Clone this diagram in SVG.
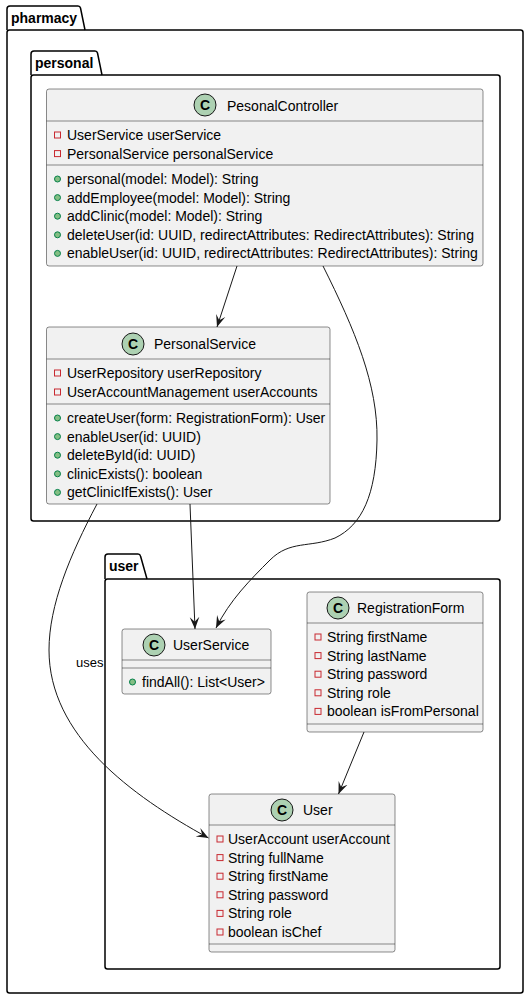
<svg xmlns="http://www.w3.org/2000/svg" width="530" height="999" viewBox="0 0 530 999">
<style>
text{font-family:"Liberation Sans",Arial,sans-serif;fill:#000}
.pkg{fill:none;stroke:#000;stroke-width:1.5}
.pt{font-size:14px;font-weight:bold}
.box{fill:#F1F1F1;stroke:#181818;stroke-width:0.5}
.div{stroke:#181818;stroke-width:0.5}
.ic{fill:#ADD1B2;stroke:#181818;stroke-width:1}
.icl{font-size:14px;font-weight:bold;text-anchor:middle}
.t{font-size:14px}
.m{font-size:14px}
.priv{fill:none;stroke:#C82930;stroke-width:1}
.pub{fill:#84BE84;stroke:#038048;stroke-width:1}
.edge{fill:none;stroke:#181818;stroke-width:1}
.lbl{font-size:13px}
</style>
<defs>
<marker id="ah" markerUnits="userSpaceOnUse" markerWidth="12" markerHeight="12" viewBox="0 0 10 10" refX="10" refY="5" orient="auto">
<path d="M0,1 L10,5 L0,9 L4,5 Z" fill="#181818"/>
</marker>
</defs>

<g id="pkg-pharmacy">
<path class="pkg" d="M7,30 L7,9 Q7,6 10,6 L78,6 Q80,6 80.5,8 L85,30"/>
<rect class="pkg" x="7" y="30" width="516" height="963" rx="2.5"/>
<text class="pt" x="11" y="23">pharmacy</text>
</g>

<g id="pkg-personal">
<path class="pkg" d="M31,75 L31,54 Q31,51 34,51 L95,51 Q97,51 97.5,53 L102,75"/>
<rect class="pkg" x="31" y="75" width="469" height="446" rx="2.5"/>
<text class="pt" x="35" y="68">personal</text>
</g>

<g id="pkg-user">
<path class="pkg" d="M105,579 L105,557 Q105,554 108,554 L138,554 Q140,554 140.5,556 L147,579"/>
<rect class="pkg" x="105" y="579" width="395" height="390" rx="2.5"/>
<text class="pt" x="109" y="571">user</text>
</g>

<g id="PesonalController">
<rect class="box" x="46.5" y="89" width="436.5" height="177" rx="2.5"/>
<circle class="ic" cx="205" cy="105" r="11"/>
<text class="icl" x="205" y="110">C</text>
<text class="t" x="227" y="111">PesonalController</text>
<line class="div" x1="46.5" y1="121" x2="483" y2="121"/>
<rect class="priv" x="54.5" y="132" width="6" height="6"/>
<text class="m" x="67" y="140">UserService userService</text>
<rect class="priv" x="54.5" y="150.6" width="6" height="6"/>
<text class="m" x="67" y="158.6">PersonalService personalService</text>
<line class="div" x1="46.5" y1="165" x2="483" y2="165"/>
<circle class="pub" cx="57.5" cy="179" r="3"/>
<text class="m" x="67" y="184">personal(model: Model): String</text>
<circle class="pub" cx="57.5" cy="197.6" r="3"/>
<text class="m" x="67" y="202.6">addEmployee(model: Model): String</text>
<circle class="pub" cx="57.5" cy="216.2" r="3"/>
<text class="m" x="67" y="221.2">addClinic(model: Model): String</text>
<circle class="pub" cx="57.5" cy="234.8" r="3"/>
<text class="m" x="67" y="239.8">deleteUser(id: UUID, redirectAttributes: RedirectAttributes): String</text>
<circle class="pub" cx="57.5" cy="253.4" r="3"/>
<text class="m" x="67" y="258.4">enableUser(id: UUID, redirectAttributes: RedirectAttributes): String</text>
</g>

<g id="PersonalService">
<rect class="box" x="46.5" y="327" width="283.5" height="177" rx="2.5"/>
<circle class="ic" cx="133" cy="344" r="11"/>
<text class="icl" x="133" y="349">C</text>
<text class="t" x="154" y="349">PersonalService</text>
<line class="div" x1="46.5" y1="359" x2="330" y2="359"/>
<rect class="priv" x="54.5" y="370" width="6" height="6"/>
<text class="m" x="67" y="378">UserRepository userRepository</text>
<rect class="priv" x="54.5" y="389" width="6" height="6"/>
<text class="m" x="67" y="397">UserAccountManagement userAccounts</text>
<line class="div" x1="46.5" y1="404" x2="330" y2="404"/>
<circle class="pub" cx="57.5" cy="418" r="3"/>
<text class="m" x="67" y="423">createUser(form: RegistrationForm): User</text>
<circle class="pub" cx="57.5" cy="436.6" r="3"/>
<text class="m" x="67" y="441.6">enableUser(id: UUID)</text>
<circle class="pub" cx="57.5" cy="455.2" r="3"/>
<text class="m" x="67" y="460.2">deleteById(id: UUID)</text>
<circle class="pub" cx="57.5" cy="473.8" r="3"/>
<text class="m" x="67" y="478.8">clinicExists(): boolean</text>
<circle class="pub" cx="57.5" cy="492.4" r="3"/>
<text class="m" x="67" y="497.4">getClinicIfExists(): User</text>
</g>

<g id="UserService">
<rect class="box" x="122" y="629" width="149" height="65" rx="2.5"/>
<circle class="ic" cx="154" cy="645" r="11"/>
<text class="icl" x="154" y="650">C</text>
<text class="t" x="173" y="650">UserService</text>
<line class="div" x1="122" y1="660" x2="271" y2="660"/>
<line class="div" x1="122" y1="668" x2="271" y2="668"/>
<circle class="pub" cx="132.5" cy="682" r="3"/>
<text class="m" x="142" y="687">findAll(): List&lt;User&gt;</text>
</g>

<g id="RegistrationForm">
<rect class="box" x="307" y="592" width="176" height="140" rx="2.5"/>
<circle class="ic" cx="338" cy="608" r="11"/>
<text class="icl" x="338" y="613">C</text>
<text class="t" x="357" y="613">RegistrationForm</text>
<line class="div" x1="307" y1="623" x2="483" y2="623"/>
<rect class="priv" x="315" y="634" width="6" height="6"/>
<text class="m" x="327" y="642">String firstName</text>
<rect class="priv" x="315" y="652.6" width="6" height="6"/>
<text class="m" x="327" y="660.6">String lastName</text>
<rect class="priv" x="315" y="671.2" width="6" height="6"/>
<text class="m" x="327" y="679.2">String password</text>
<rect class="priv" x="315" y="689.8" width="6" height="6"/>
<text class="m" x="327" y="697.8">String role</text>
<rect class="priv" x="315" y="708.4" width="6" height="6"/>
<text class="m" x="327" y="716.4">boolean isFromPersonal</text>
<line class="div" x1="307" y1="724" x2="483" y2="724"/>
</g>

<g id="User">
<rect class="box" x="209" y="794" width="186" height="158" rx="2.5"/>
<circle class="ic" cx="282" cy="810" r="11"/>
<text class="icl" x="282" y="815">C</text>
<text class="t" x="303" y="815">User</text>
<line class="div" x1="209" y1="825" x2="395" y2="825"/>
<rect class="priv" x="217" y="836" width="6" height="6"/>
<text class="m" x="228" y="844">UserAccount userAccount</text>
<rect class="priv" x="217" y="854.6" width="6" height="6"/>
<text class="m" x="228" y="862.6">String fullName</text>
<rect class="priv" x="217" y="873.2" width="6" height="6"/>
<text class="m" x="228" y="881.2">String firstName</text>
<rect class="priv" x="217" y="891.8" width="6" height="6"/>
<text class="m" x="228" y="899.8">String password</text>
<rect class="priv" x="217" y="910.4" width="6" height="6"/>
<text class="m" x="228" y="918.4">String role</text>
<rect class="priv" x="217" y="929" width="6" height="6"/>
<text class="m" x="228" y="937">boolean isChef</text>
<line class="div" x1="209" y1="944" x2="395" y2="944"/>
</g>

<g id="connectors">
<path class="edge" marker-end="url(#ah)" d="M237,266 L217,327"/>
<path class="edge" marker-end="url(#ah)" d="M323,266 C355,330 378,385 377,440 C376,495 362,525 335,538 C310,548 290,540 270,560 C250,580 230,600 216,628"/>
<path class="edge" marker-end="url(#ah)" d="M190,504 L195,629"/>
<path class="edge" marker-end="url(#ah)" d="M97,504 C70,555 49,605 49,650 C49,735 130,795 208.5,838"/>
<text class="lbl" x="76" y="667">uses</text>
<path class="edge" marker-end="url(#ah)" d="M364,732 L338.5,794"/>
</g>
</svg>
